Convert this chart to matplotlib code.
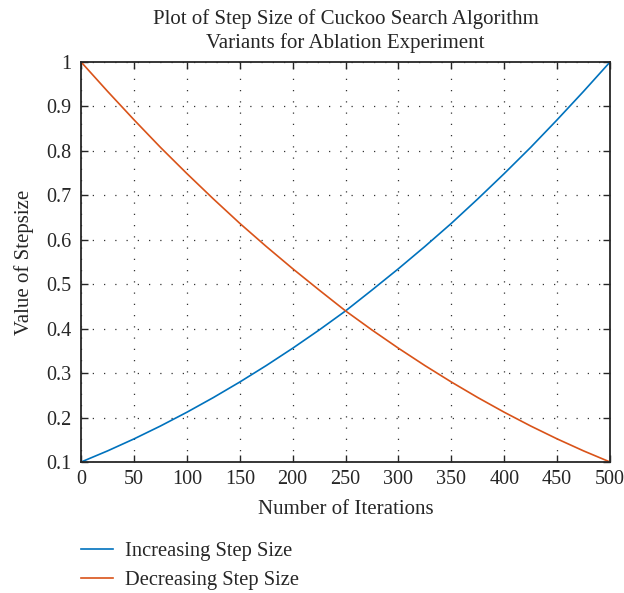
import numpy as np
from matplotlib import pyplot as plt
from matplotlib.lines import Line2D

# step size values read at every 25 iterations
iterations = [0, 25, 50, 75, 100, 125, 150, 175, 200, 225, 250,
              275, 300, 325, 350, 375, 400, 425, 450, 475, 500]
increasing = [0.1, 0.125, 0.152, 0.181, 0.212, 0.245, 0.280, 0.317, 0.356, 0.397, 0.44,
              0.487, 0.535, 0.585, 0.637, 0.692, 0.749, 0.808, 0.870, 0.934, 1.0]
decreasing = [1.0, 0.934, 0.870, 0.808, 0.749, 0.692, 0.637, 0.585, 0.535, 0.487, 0.44,
              0.397, 0.356, 0.317, 0.280, 0.245, 0.212, 0.181, 0.152, 0.125, 0.1]

labels = ['Increasing Step Size', 'Decreasing Step Size']
colors = ['#0072BD', '#D95319']

xticks = [0, 50, 100, 150, 200, 250, 300, 350, 400, 450, 500]
yticks = [0.1, 0.2, 0.3, 0.4, 0.5, 0.6, 0.7, 0.8, 0.9, 1.0]
ytick_labels = ['0.1', '0.2', '0.3', '0.4', '0.5', '0.6', '0.7', '0.8', '0.9', '1']

plt.rcParams['font.family'] = ['Liberation Serif', 'DejaVu Serif']

fig = plt.figure(figsize=(6.24, 5.93), dpi=100)
ax = fig.add_axes([0.130, 0.2209, 0.8476, 0.6745])

ax.plot(iterations, increasing, color=colors[0], lw=1.2)
ax.plot(iterations, decreasing, color=colors[1], lw=1.2)

ax.set_xlim(0, 500)
ax.set_ylim(0.1, 1.0)
ax.set_xticks(xticks)
ax.set_yticks(yticks)
ax.set_yticklabels(ytick_labels)
ax.tick_params(direction='in', top=True, right=True, labelsize=14.5,
               length=5, width=1, colors='#262626')
ax.tick_params(axis='x', pad=6)
ax.tick_params(axis='y', pad=7)
for s in ax.spines.values():
    s.set_linewidth(1.3)
    s.set_color('#262626')
ax.grid(True, linestyle=(0, (1, 8)), color='#333333', lw=0.9)

ax.set_xlabel('Number of Iterations', fontsize=15, color='#262626', labelpad=8)
ax.set_ylabel('Value of Stepsize', fontsize=15, color='#262626', labelpad=9)
ax.set_title('Plot of Step Size of Cuckoo Search Algorithm\nVariants for Ablation Experiment',
             fontsize=15, color='#262626', pad=10, linespacing=1.3)

handles = [Line2D([], [], color=c, lw=1.2) for c in colors]
fig.legend(handles, labels, loc='upper left', bbox_to_anchor=(0.13, 0.086),
           frameon=False, fontsize=14.8, handlelength=1.55, labelspacing=0.45,
           handletextpad=0.6, labelcolor='#262626', borderpad=0, borderaxespad=0)

fig.savefig('out.png', dpi=100)
